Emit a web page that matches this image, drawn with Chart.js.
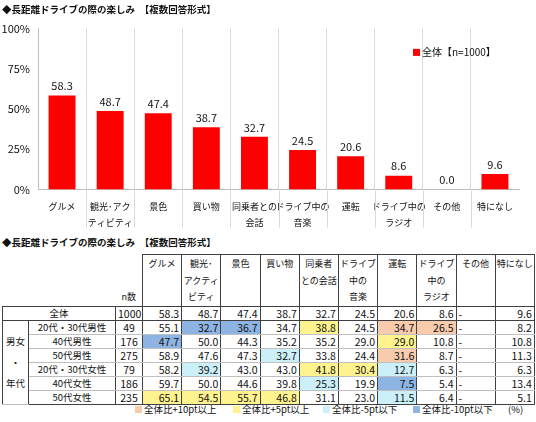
<!DOCTYPE html>
<html lang="ja">
<head>
<meta charset="utf-8">
<script src="https://cdn.jsdelivr.net/npm/chart.js@4.4.1/dist/chart.umd.min.js"></script>
<style>
  html, body { margin:0; padding:0; background:#fff; }
  body { width:536px; height:422px; position:relative; overflow:hidden;
         font-family:"Noto Sans CJK JP","Noto Sans",sans-serif; color:#111; }
  #chartWrap { position:absolute; left:0; top:0; width:536px; height:240px; z-index:2; }
  #tTitle { position:absolute; left:2px; top:236px; font-size:9.5px; font-weight:bold; white-space:pre; line-height:13px; }
  table { position:absolute; left:2px; top:254px; border-collapse:collapse; table-layout:fixed; width:532px; }
  td { font-size:10.5px; height:13px; line-height:13px; padding:0 2px; white-space:nowrap; overflow:hidden; }
  tr.hdr td { height:49px; vertical-align:top; font-size:9px; line-height:16.5px; padding:1px 0 0 0; text-align:center; }
  tr.hdr td.h { border:1px solid #404040; }
  tr.hdr td.n { vertical-align:bottom; padding-bottom:0; }
  td.v { text-align:right; border-left:1px solid #404040; border-right:1px solid #404040; }
  td.c { text-align:center; border-left:1px solid #404040; border-right:1px solid #404040; font-size:9.5px; }
  td.num { font-size:10.5px; }
  td.dash { text-align:left; }
  tr.total td { border-top:1px solid #404040; border-bottom:1px solid #404040; }
  tr.grp td { border-top:1px solid #bfbfbf; border-bottom:1px solid #bfbfbf; }
  tr.sep td { border-top:1px solid #404040; }
  tr.last td { border-bottom:1px solid #404040; }
  td.gcell { border:1px solid #404040; text-align:center; vertical-align:middle; line-height:21px; font-size:9.5px; padding:0; }
  #legend { position:absolute; left:0; top:402px; width:536px; height:16px; font-size:9.5px; }
  #legend span.item { position:absolute; top:0; line-height:15px; white-space:nowrap; }
  #legend i { display:inline-block; width:7px; height:7px; margin-right:2px; vertical-align:0px; }
</style>
</head>
<body>
<div id="chartWrap"><canvas id="c" width="536" height="240"></canvas></div>
<div id="tTitle"></div>
<table id="tbl"></table>
<div id="legend"></div>
<script>
// ---------- data ----------
const chartTitle = '◆長距離ドライブの際の楽しみ　【複数回答形式】';
const categories = [['グルメ'], ['観光･アク', 'ティビティ'], ['景色'], ['買い物'], ['同乗者との', '会話'],
                    ['ドライブ中の', '音楽'], ['運転'], ['ドライブ中の', 'ラジオ'], ['その他'], ['特になし']];
const overall = [58.3, 48.7, 47.4, 38.7, 32.7, 24.5, 20.6, 8.6, 0.0, 9.6];
const seriesName = '全体【n=1000】';
const yTickValues = [0, 25, 50, 75, 100];

const tableHeaders = [['グルメ'], ['観光･', 'アクティ', 'ビティ'], ['景色'], ['買い物'], ['同乗者', 'との会話'],
                      ['ドライブ', '中の', '音楽'], ['運転'], ['ドライブ', '中の', 'ラジオ'], ['その他'], ['特になし']];
const totalLabel = '全体';
const totalN = 1000;
const groupLabel = ['男女', '・', '年代'];
const rowLabels = ['20代・30代男性', '40代男性', '50代男性', '20代・30代女性', '40代女性', '50代女性'];
const rowN = [49, 176, 275, 79, 186, 235];
const m2030 = [55.1, 32.7, 36.7, 34.7, 38.8, 24.5, 34.7, 26.5, 0, 8.2];
const m40   = [47.7, 50.0, 44.3, 35.2, 35.2, 29.0, 29.0, 10.8, 0, 10.8];
const m50   = [58.9, 47.6, 47.3, 32.7, 33.8, 24.4, 31.6, 8.7, 0, 11.3];
const f2030 = [58.2, 39.2, 43.0, 43.0, 41.8, 30.4, 12.7, 6.3, 0, 6.3];
const f40   = [59.7, 50.0, 44.6, 39.8, 25.3, 19.9, 7.5, 5.4, 0, 13.4];
const f50   = [65.1, 54.5, 55.7, 46.8, 31.1, 23.0, 11.5, 6.4, 0, 5.1];
const rowValues = [m2030, m40, m50, f2030, f40, f50];
const legendLabels = ['全体比+10pt以上', '全体比+5pt以上', '全体比-5pt以下', '全体比-10pt以下'];
const unitLabel = '(%)';

// ---------- styles ----------
const FONT = '"Noto Sans CJK JP","Noto Sans",sans-serif';
const RED = '#ff0000';
const hiColors = ['#f8cbad', '#fff38f', '#ccf0fa', '#8db4e2'];
const legendPos = [135, 233, 323, 413];
const SEP = '#d9d9d9';

// ---------- chart ----------
const labelPlugin = {
  id: 'barLabels',
  afterDatasetsDraw(chart) {
    const ctx = chart.ctx;
    const meta = chart.getDatasetMeta(0);
    ctx.save();
    ctx.font = '11px ' + FONT;
    ctx.fillStyle = '#111';
    ctx.textAlign = 'center';
    ctx.textBaseline = 'bottom';
    meta.data.forEach((bar, i) => {
      const v = chart.data.datasets[0].data[i];
      ctx.fillText(v.toFixed(1), bar.x, bar.y - 4);
    });
    ctx.restore();
  }
};
// extends the category separators down through the tick-label area
const sepPlugin = {
  id: 'catSeparators',
  afterDraw(chart) {
    const xs = chart.scales.x, a = chart.chartArea, ctx = chart.ctx;
    ctx.save();
    ctx.strokeStyle = SEP;
    ctx.lineWidth = 1;
    for (let i = 1; i < xs.ticks.length; i++) {
      const x = Math.round((xs.getPixelForTick(i - 1) + xs.getPixelForTick(i)) / 2) + 0.5;
      ctx.beginPath();
      ctx.moveTo(x, a.bottom + 1);
      ctx.lineTo(x, a.bottom + 38);
      ctx.stroke();
    }
    ctx.restore();
  }
};
const legendPlugin = {
  id: 'innerLegend',
  afterDraw(chart) {
    const ctx = chart.ctx, a = chart.chartArea;
    const x = a.right - 106, y = a.top + 24;
    ctx.save();
    ctx.fillStyle = RED;
    ctx.fillRect(x, y - 3.5, 7, 7);
    ctx.fillStyle = '#111';
    ctx.font = '10px ' + FONT;
    ctx.textBaseline = 'middle';
    ctx.textAlign = 'left';
    ctx.fillText(chart.data.datasets[0].label, x + 9, y);
    ctx.restore();
  }
};

new Chart(document.getElementById('c'), {
  type: 'bar',
  data: {
    labels: categories,
    datasets: [{ label: seriesName, data: overall, backgroundColor: RED,
                 barPercentage: 0.56, categoryPercentage: 1.0 }]
  },
  options: {
    responsive: false,
    animation: false,
    devicePixelRatio: 1,
    layout: { padding: { left: 2, right: 17, top: 0, bottom: 1 } },
    plugins: {
      legend: { display: false },
      tooltip: { enabled: false },
      title: { display: true, text: chartTitle, align: 'start', color: '#111',
               font: { size: 9.5, weight: 'bold', family: FONT }, padding: { top: 4, bottom: 13 } }
    },
    scales: {
      x: {
        grid: { offset: true, drawTicks: false,
                color: c => c.type === 'tick' && c.index > 0 ? SEP : 'rgba(0,0,0,0)' },
        border: { color: '#bfbfbf' },
        ticks: { padding: 9, color: '#111', maxRotation: 0, minRotation: 0, autoSkip: false,
                 font: { size: 9, family: FONT, lineHeight: 1.75 } }
      },
      y: {
        min: 0, max: 100,
        afterBuildTicks: s => { s.ticks = yTickValues.map(v => ({ value: v })); },
        afterFit: s => { s.width = 36; },
        grid: { display: false, drawTicks: false },
        border: { color: '#bfbfbf' },
        ticks: { padding: 8, color: '#111', callback: v => v + '%',
                 font: { size: 11, family: FONT } }
      }
    }
  },
  plugins: [labelPlugin, sepPlugin, legendPlugin]
});

// ---------- table ----------
document.getElementById('tTitle').textContent = chartTitle;
const fmt = v => (v === 0 ? '-' : v.toFixed(1));
function hiColor(v, base) {
  if (v === 0 && base === 0) return '';
  const d = v - base;
  if (d >= 10) return hiColors[0];
  if (d >= 5) return hiColors[1];
  if (d <= -10) return hiColors[3];
  if (d <= -5) return hiColors[2];
  return '';
}
const tbl = document.getElementById('tbl');
let html = '<colgroup><col style="width:26px"><col style="width:87px"><col style="width:27px">' +
           tableHeaders.map(() => '<col style="width:39.2px">').join('') + '</colgroup>';
html += '<tr class="hdr"><td colspan="2"></td><td class="n">n数</td>' +
        tableHeaders.map(h => '<td class="h">' + h.join('<br>') + '</td>').join('') + '</tr>';
html += '<tr class="total"><td colspan="2" class="c" style="border-left:1px solid #404040">' + totalLabel +
        '</td><td class="c num">' + totalN + '</td>' +
        overall.map(v => '<td class="v' + (v === 0 ? ' dash' : '') + '">' + fmt(v) + '</td>').join('') + '</tr>';
rowValues.forEach((vals, r) => {
  let cls = 'grp';
  if (r === 3) cls += ' sep';
  if (r === rowValues.length - 1) cls += ' last';
  let tr = '<tr class="' + cls + '">';
  if (r === 0) tr += '<td class="gcell" rowspan="' + rowValues.length + '">' + groupLabel.join('<br>') + '</td>';
  tr += '<td class="c">' + rowLabels[r] + '</td><td class="c num">' + rowN[r] + '</td>';
  tr += vals.map((v, j) => {
    const bg = hiColor(v, overall[j]);
    return '<td class="v' + (v === 0 ? ' dash' : '') + '"' + (bg ? ' style="background:' + bg + '"' : '') + '>' + fmt(v) + '</td>';
  }).join('');
  html += tr + '</tr>';
});
tbl.innerHTML = html;

// ---------- table legend ----------
const lg = document.getElementById('legend');
legendLabels.forEach((t, i) => {
  const s = document.createElement('span');
  s.className = 'item';
  s.style.left = legendPos[i] + 'px';
  s.innerHTML = '<i style="background:' + hiColors[i] + '"></i>' + t;
  lg.appendChild(s);
});
const u = document.createElement('span');
u.className = 'item'; u.style.left = '508px'; u.textContent = unitLabel;
lg.appendChild(u);
</script>
</body>
</html>
